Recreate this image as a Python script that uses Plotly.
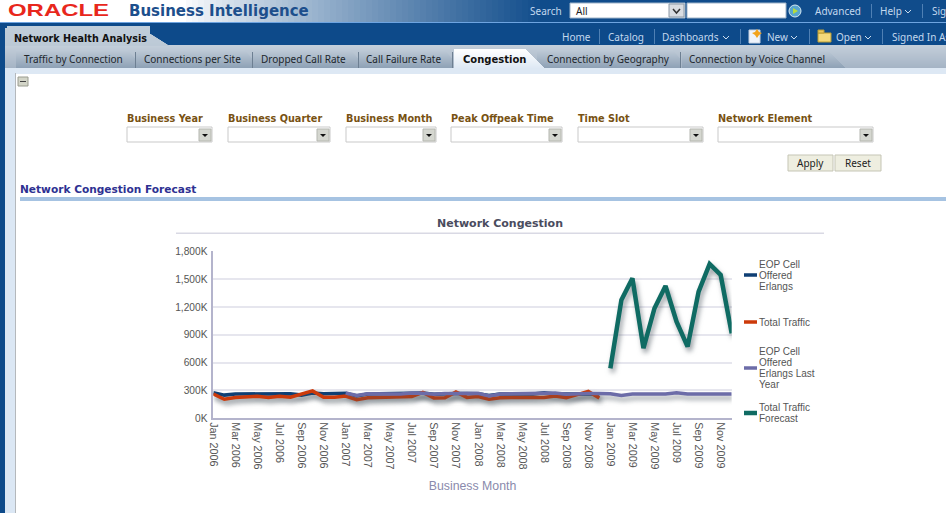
#!/usr/bin/env python3
"""
Network Congestion chart inside the Oracle BI dashboard page.
"""
import plotly.graph_objects as go

W = 946
H = 513

# Chart data, values in thousands
years = ['2006', '2007', '2008', '2009']
month_names = ['Jan', 'Feb', 'Mar', 'Apr', 'May', 'Jun', 'Jul', 'Aug', 'Sep', 'Oct', 'Nov', 'Dec']
months = [f'{m} {y}' for y in years for m in month_names]

eop_erlangs = [275, 250, 262, 262, 270, 262, 270, 265, 250, 272, 265, 265,
               270, 240, 262, 265, 265, 265, 270, 272, 258, 265, 268, 268,
               265, 245, 262, 262, 262, 262, 275, 262, 262, 262, 262, 262]
total_traffic = [262, 205, 225, 228, 238, 225, 238, 228, 258, 295, 228, 228,
                 240, 200, 222, 225, 225, 225, 235, 280, 220, 222, 285, 225,
                 235, 205, 222, 225, 225, 225, 225, 240, 222, 255, 290, 218]
eop_last_year = [272, 245, 265, 265, 270, 262, 272, 270, 258, 268, 266, 265,
                 270, 240, 262, 265, 265, 265, 270, 272, 258, 265, 268, 268,
                 265, 245, 262, 262, 262, 262, 275, 262, 262, 262, 262, 262]
traffic_forecast = [539, 1275, 1509, 755, 1186, 1426, 1042, 772, 1365, 1663, 1545, 916]

series_names = ['EOP Cell<br>Offered<br>Erlangs', 'Total Traffic',
                'EOP Cell<br>Offered<br>Erlangs Last<br>Year', 'Total Traffic<br>Forecast']
y_ticks = [0, 300, 600, 900, 1200, 1500, 1800]
y_tick_labels = ['0K', '300K', '600K', '900K', '1,200K', '1,500K', '1,800K']

# Page furniture text
nav_top = [('Search', 529), ('Advanced', 814), ('Help', 879), ('Sign Out', 931)]
nav_second = [('Home', 561), ('Catalog', 607), ('Dashboards', 661), ('New', 766),
              ('Open', 835), ('Signed In As', 891)]
nav_separators = [(871, 4, 18), (922, 4, 18), (599, 29, 44), (654, 29, 44),
                  (740, 29, 44), (809, 29, 44), (882, 29, 44)]
tabs = [('Traffic by Connection', 16, 135, 23), ('Connections per Site', 136, 252, 143),
        ('Dropped Call Rate', 253, 358, 260), ('Call Failure Rate', 359, 452, 365),
        ('Connection by Geography', 537, 680, 546)]
filters = [('Business Year', 127, 212), ('Business Quarter', 228, 330),
           ('Business Month', 346, 436), ('Peak Offpeak Time', 451, 562),
           ('Time Slot', 578, 703), ('Network Element', 718, 873)]

shapes = []
annotations = []


def px(x):
    return x / W


def py(y):
    return 1 - y / H


def rect(x0, y0, x1, y1, fill, line=None, width=1):
    shapes.append(dict(type='rect', xref='paper', yref='paper', x0=px(x0), x1=px(x1),
                       y0=py(y0), y1=py(y1), fillcolor=fill, layer='below',
                       line=dict(color=line or fill, width=width if line else 0)))


def poly(points, fill, line=None, width=1, close=True):
    d = 'M' + ' L'.join(f'{px(a):.5f},{py(b):.5f}' for a, b in points) + (' Z' if close else '')
    shapes.append(dict(type='path', xref='paper', yref='paper', path=d, layer='below',
                       fillcolor=fill, line=dict(color=line or fill, width=width if line else 0)))


def label(text, x, y, size=10, color='#333333', font='Noto Sans', anchor='left', bold=False):
    if bold:
        text = f'<b>{text}</b>'
    annotations.append(dict(text=text, x=px(x), y=py(y), xref='paper', yref='paper',
                            xanchor=anchor, yanchor='middle', showarrow=False, align='left',
                            borderpad=0, font=dict(family=font, size=size, color=color)))


def mix(a, b, t):
    ca = [int(a[i:i + 2], 16) for i in (1, 3, 5)]
    cb = [int(b[i:i + 2], 16) for i in (1, 3, 5)]
    return '#' + ''.join(f'{round(p + (q - p) * t):02x}' for p, q in zip(ca, cb))


def chevron(x, y, color='#cfe0f0'):
    poly([(x, y), (x + 3, y + 3), (x + 6, y)], 'rgba(0,0,0,0)', color, 1, close=False)


# Top banner with its white to blue fade
rect(0, 0, 946, 22, '#ffffff')
for i in range(0, 360, 6):
    rect(180 + i, 0, 187 + i, 22, mix('#ffffff', '#104c8b', (i / 360) ** 0.85))
rect(540, 0, 946, 22, '#104c8b')
rect(0, 22, 946, 23, '#6ea4e0')
rect(0, 23, 946, 45, '#0d4a8a')
label('ORACLE', 7, 11, size=17, color='#e8271c', font='Liberation Sans', bold=True)
label('Business Intelligence', 128, 11, size=15, color='#1d4f8c', font='DejaVu Sans', bold=True)

for text, x in nav_top:
    label(text, x, 11, size=10, color='#c3d8ee')
for text, x in nav_second:
    label(text, x, 37, size=10, color='#c3d8ee')
for x, y0, y1 in nav_separators:
    rect(x, y0, x + 1, y1, '#4f80b4')
chevron(905, 10)
chevron(723, 36)
chevron(791, 36)
chevron(865, 36)

# Search controls
rect(570, 3, 685, 18, '#ffffff', '#9fb4c9')
label('All', 575, 11, size=10, color='#222222')
rect(669, 4, 684, 17, '#d9dde2', '#8c99a6')
poly([(673, 9), (676.5, 13), (680, 9)], 'rgba(0,0,0,0)', '#333333', 1.5, close=False)
rect(687, 3, 786, 18, '#ffffff', '#9fb4c9')
shapes.append(dict(type='circle', xref='paper', yref='paper', layer='below', fillcolor='#58a6cf',
                   x0=px(789), x1=px(801), y0=py(17), y1=py(5), line=dict(color='#d7e8f2', width=1)))
poly([(793, 8), (798, 11), (793, 14)], '#b5dc3c')

# New and Open icons
rect(749, 30, 760, 43, '#eef3fb', '#c5d0e0')
poly([(757, 29), (759, 32), (762, 33), (759, 35), (757, 38), (755, 35), (752, 33), (755, 32)], '#f2a31c')
rect(818, 33, 831, 42, '#f3d97b', '#b99b35')
rect(818, 30, 824, 33, '#e9c65a', '#b99b35')

# Tab bar
for y in range(45, 69):
    rect(0, y, 946, y + 1, mix('#c3ceda', '#a4b3c4', (y - 45) / 23))
rect(0, 68, 946, 74, '#dde8f4')

# Page tab
for y in range(26, 46):
    t = (y - 26) / 19
    right = 150 + 19 * max(0, y - 33) / 12
    rect(7 if y < 28 else 5, y, right, y + 1, mix('#c0ceda', '#bcc9d6', t))
label('Network Health Analysis', 13, 38.5, size=9.6, color='#111111', font='DejaVu Sans', bold=True)

# Sub tabs
for text, x0, x1, tx in tabs:
    for y in range(50, 68):
        right = x1 - max(0, 58 - y) * 0.85
        rect(x0, y, right, y + 1, mix('#bdc9d6', '#8fa2b6', (y - 50) / 17))
    rect(x1, 52, x1 + 1, 68, '#6d7f92')
    label(text, tx, 59.5, size=10, color='#20262c')
# Last tab runs down on one long slope
for y in range(50, 68):
    rect(682, y, 828 + (y - 50), y + 1, mix('#bdc9d6', '#8fa2b6', (y - 50) / 17))
label('Connection by Voice Channel', 688, 59.5, size=10, color='#20262c')
for y in range(49, 69):
    right = 526 + (y - 49)
    rect(454, y, right, y + 1, mix('#ffffff', '#dde8f4', (y - 49) / 19))
label('Congestion', 462, 59.5, size=10, color='#111111', font='DejaVu Sans', bold=True)

# Left page edge
rect(0, 45, 5, 513, '#0d4a8a')
rect(5, 68, 15, 513, '#dbe7f4')
rect(15, 73, 16, 513, '#b4b8bc')

# Collapse toggle
rect(18, 77, 28, 86, '#d3d5c8', '#9a9c90')
rect(20, 81, 26, 82, '#444444')

# Prompts
for text, x0, x1 in filters:
    label(text, x0 - 1, 118, size=9.7, color='#785213', font='DejaVu Sans', bold=True)
    rect(x0, 127, x1, 142, '#ffffff', '#c9c9c9')
    rect(x1 - 13, 129, x1 - 1, 141, '#d5d7d0', '#b5b7b0')
    poly([(x1 - 10, 134), (x1 - 4, 134), (x1 - 7, 137)], '#111111')

# Buttons
for text, x0, x1 in [('Apply', 788, 833), ('Reset', 835, 881)]:
    rect(x0, 155, x1, 171, '#eeeee0', '#c5c5b5')
    label(text, (x0 + x1) / 2, 163, size=10, color='#222222', anchor='center')

# Section heading and chart title
label('Network Congestion Forecast', 19, 189, size=10.6, color='#2e3192', font='DejaVu Sans', bold=True)
rect(20, 197, 946, 201, '#a6c3e2')
label('Network Congestion', 500, 223.5, size=11, color='#4a4c5e', font='DejaVu Sans', anchor='center', bold=True)
rect(176, 232.5, 824, 234, '#d9d9e4')

fig = go.Figure()
fig.add_trace(go.Scatter(x=months[:36], y=eop_erlangs, mode='lines', name=series_names[0],
                         legend='legend', showlegend=True, line=dict(color='#0f3f74', width=3.5)))
fig.add_trace(go.Scatter(x=months[:36], y=total_traffic, mode='lines', name=series_names[1],
                         legend='legend2', showlegend=True, line=dict(color='#cc3a0a', width=3.5)))
fig.add_trace(go.Scatter(x=months[12:], y=eop_last_year, mode='lines', name=series_names[2],
                         legend='legend3', showlegend=True, line=dict(color='#6c6ca8', width=3.5)))
fig.add_trace(go.Scatter(x=months[36:], y=traffic_forecast, mode='lines', name=series_names[3],
                         legend='legend4', showlegend=True, line=dict(color='#0f6b63', width=4.5)))


def legend_at(y):
    return dict(x=px(719), y=py(y), xanchor='left', yanchor='middle', bgcolor='rgba(0,0,0,0)',
                font=dict(family='Liberation Sans', size=10, color='#555555'),
                itemclick=False, itemdoubleclick=False)


fig.update_layout(
    width=W,
    height=H,
    showlegend=True,
    margin=dict(l=0, r=0, t=0, b=0, pad=0, autoexpand=False),
    paper_bgcolor='#ffffff',
    plot_bgcolor='#ffffff',
    shapes=shapes,
    annotations=annotations,
    legend=legend_at(275),
    legend2=legend_at(322),
    legend3=legend_at(368),
    legend4=legend_at(413),
    xaxis=dict(
        domain=[px(213.3), px(731.7)],
        type='category',
        categoryorder='array',
        categoryarray=months,
        range=[0, 47],
        tickmode='array',
        tickvals=months[::2],
        ticktext=months[::2],
        tickangle=90,
        tickfont=dict(family='Liberation Sans', size=10.8, color='#555555'),
        showgrid=False,
        showline=True,
        linecolor='#b4b4cc',
        linewidth=1.5,
        ticks='',
        title=dict(text='Business Month', standoff=13,
                   font=dict(family='Liberation Sans', size=12.3, color='#8a8aac')),
    ),
    yaxis=dict(
        domain=[py(418.3), py(251.3)],
        range=[0, 1800],
        tickmode='array',
        tickvals=y_ticks,
        ticktext=y_tick_labels,
        tickfont=dict(family='Liberation Sans', size=10.2, color='#555555'),
        ticklabelstandoff=2,
        gridcolor='#e6e6ee',
        gridwidth=1.5,
        zeroline=False,
        showline=True,
        linecolor='#b4b4cc',
        linewidth=1.5,
        ticks='',
    ),
)

# Soft shadow on the lines, short legend keys, tighter legend lines, wide logo, no page margin.
# Each extra legend has its own class (legend2, legend3...), hence the prefix match.
post_script = """
document.body.style.margin = '0';
document.body.style.overflow = 'hidden';
function restyle() {
    document.querySelectorAll('.scatterlayer .trace path.js-line').forEach(function (p) {
        p.style.filter = 'drop-shadow(2px 4px 2.5px rgba(70,80,90,0.55))';
    });
    document.querySelectorAll('.legendlines path').forEach(function (p) {
        p.setAttribute('d', 'M25,0h13');
    });
    document.querySelectorAll('g[class^="legend"] text').forEach(function (t) {
        var lines = t.querySelectorAll('tspan.line');
        if (!lines.length) return;
        var base = parseFloat(t.getAttribute('y')) + (lines.length - 1);
        lines.forEach(function (l, i) {
            l.setAttribute('y', base);
            l.setAttribute('dy', (11 * i) + 'px');
        });
    });
    document.querySelectorAll('.annotation-text').forEach(function (t) {
        if (t.textContent === 'ORACLE') {
            t.setAttribute('textLength', '101');
            t.setAttribute('lengthAdjust', 'spacingAndGlyphs');
        }
    });
}
restyle();
[0, 50, 150, 400].forEach(function (ms) { setTimeout(restyle, ms); });
"""
fig.write_html('out.html', post_script=post_script, config=dict(displayModeBar=False))
